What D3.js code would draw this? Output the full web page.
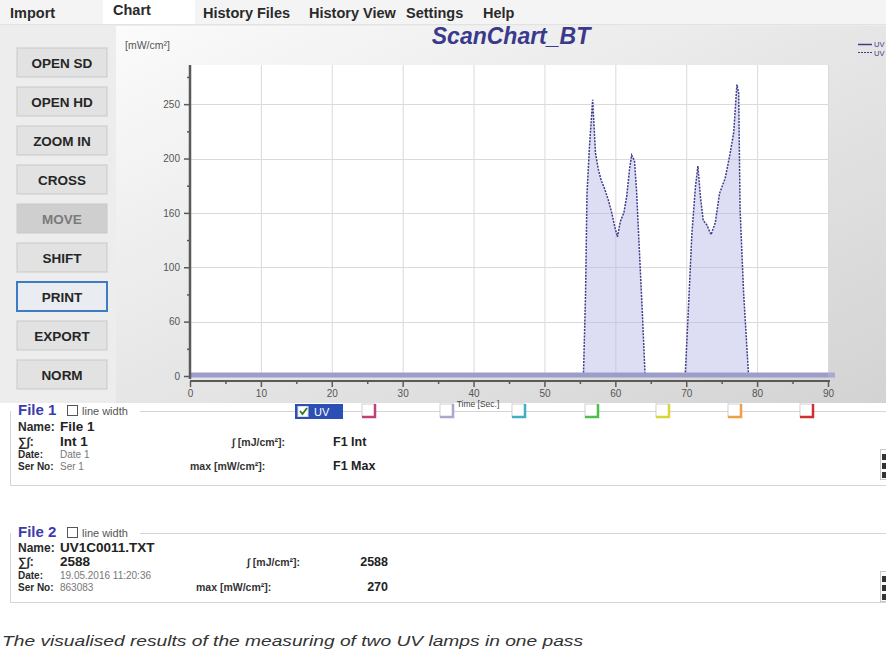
<!DOCTYPE html>
<html><head><meta charset="utf-8">
<script src="https://cdn.jsdelivr.net/npm/d3@7/dist/d3.min.js"></script>
<style>
body{margin:0;background:#fff;font-family:"Liberation Sans",Arial,sans-serif;}
svg text{font-family:"Liberation Sans",Arial,sans-serif;}
</style></head>
<body><svg id="c" width="886" height="654"></svg>
<script>
// ---------- data ----------
const tabs = ["Import","Chart","History Files","History View","Settings","Help"];
const tabX = [10,113,203,309,406,483];
const buttons = ["OPEN SD","OPEN HD","ZOOM IN","CROSS","MOVE","SHIFT","PRINT","EXPORT","NORM"];
const xTickValues = [0,10,20,30,40,50,60,70,80,90];
const yTickValues = [0,50,100,150,200,250];
const yTickLabels = ["0","60","100","160","200","250"];
const file1Time = [0,90];
const file1Values = [0,0];
const file2Time = [0,55.5,55.8,56.0,56.35,56.8,57.2,57.6,58.0,58.5,59.0,59.5,60.0,60.3,60.7,61.2,61.6,62.0,62.3,62.7,63.0,63.3,63.8,64.2,
                   69.85,70.3,70.8,71.3,71.65,72.0,72.4,72.9,73.5,74.1,74.7,75.5,76.2,76.7,77.15,77.4,77.6,78.1,78.8,90];
const file2Values = [0,0,76,168,211,254,205,190,180,172,162,150,135,128,142,150,165,190,203,198,170,128,60,0,
                     0,61,131,174,193,165,143,139,130,141,168,182,205,224,268,260,153,76,0,0];
const checkColors = ["#c0407a","#a8a8d0","#3fb0c4","#4cbf4c","#d6d63a","#f0a040","#d03030"];
const file1Info = {header:"File 1",name:"File 1",sum:"Int 1",date:"Date 1",ser:"Ser 1",intV:"F1 Int",maxV:"F1 Max"};
const file2Info = {header:"File 2",name:"UV1C0011.TXT",sum:"2588",date:"19.05.2016 11:20:36",ser:"863083",intV:"2588",maxV:"270"};
const caption = "The visualised results of the measuring of two UV lamps in one pass";

// ---------- drawing ----------
(function(){
const svg = d3.select("#c");
const defs = svg.append("defs");
const g1 = defs.append("linearGradient").attr("id","panelGrad").attr("x1","0").attr("y1","0").attr("x2","1").attr("y2","1");
g1.append("stop").attr("offset","0").attr("stop-color","#fbfbfb");
g1.append("stop").attr("offset","0.5").attr("stop-color","#e6e6e6");
g1.append("stop").attr("offset","1").attr("stop-color","#d3d3d3");

// tab bar
svg.append("rect").attr("x",0).attr("y",0).attr("width",886).attr("height",24).attr("fill","#f4f4f4");
svg.append("rect").attr("x",103).attr("y",0).attr("width",92).attr("height",25).attr("fill","#ffffff");
svg.append("line").attr("x1",0).attr("x2",886).attr("y1",24.5).attr("y2",24.5).attr("stroke","#e2e2e2");
svg.selectAll("text.tab").data(tabs).enter().append("text")
  .attr("x",(d,i)=>tabX[i]).attr("y",(d,i)=>i===1?15:18)
  .attr("font-size",14.5).attr("font-weight","bold").attr("fill","#2a2a2a").text(d=>d);

// main panel
svg.append("rect").attr("x",0).attr("y",25).attr("width",886).attr("height",378).attr("fill","#ededed");
svg.append("rect").attr("x",116).attr("y",26).attr("width",770).attr("height",377).attr("fill","url(#panelGrad)");

// buttons
const bg = svg.selectAll("g.btn").data(buttons).enter().append("g")
  .attr("transform",(d,i)=>`translate(17,${48+39*i})`);
bg.append("rect").attr("width",90).attr("height",29)
  .attr("fill",d=>d==="MOVE"?"#cfcfcf":(d==="PRINT"?"#e9edf2":"#e2e2e2"))
  .attr("stroke",d=>d==="PRINT"?"#3d7cc4":"#c9c9c9").attr("stroke-width",d=>d==="PRINT"?2:1);
bg.append("text").attr("x",45).attr("y",19.5).attr("text-anchor","middle")
  .attr("font-size",13.5).attr("font-weight","bold").attr("fill",d=>d==="MOVE"?"#7a7a7a":"#262626").text(d=>d);

// plot
const pL=190,pR=828,pT=65,pB=376;
const x = d3.scaleLinear().domain([0,90]).range([pL,pR]);
const y = d3.scaleLinear().domain([0,286]).range([pB,pT]);
svg.append("rect").attr("x",pL).attr("y",pT).attr("width",pR-pL).attr("height",pB-pT).attr("fill","#ffffff");
svg.append("g").selectAll("line").data(xTickValues.slice(1)).enter().append("line")
  .attr("x1",d=>x(d)+0.5).attr("x2",d=>x(d)+0.5).attr("y1",pT).attr("y2",pB).attr("stroke","#dadada");
svg.append("g").selectAll("line").data(yTickValues.slice(1)).enter().append("line")
  .attr("x1",pL).attr("x2",pR).attr("y1",d=>Math.round(y(d))+0.5).attr("y2",d=>Math.round(y(d))+0.5).attr("stroke","#dadada");

// title & unit
svg.append("text").attr("x",511).attr("y",44).attr("text-anchor","middle")
  .attr("font-size",23).attr("font-weight","bold").attr("font-style","italic").attr("fill","#3a3a8c").text("ScanChart_BT");
svg.append("text").attr("x",125).attr("y",49).attr("font-size",10.5).attr("fill","#555").text("[mW/cm²]");

// series 2 area + line
const pts2 = file2Time.map((t,i)=>[t,file2Values[i]]);
svg.append("path").datum(pts2)
  .attr("d",d3.area().x(d=>x(d[0])).y0(y(0)).y1(d=>y(d[1])))
  .attr("fill","#b4b4e6").attr("fill-opacity",0.45);
svg.append("path").datum(pts2)
  .attr("d",d3.line().x(d=>x(d[0])).y(d=>y(d[1])))
  .attr("fill","none").attr("stroke","#3c3c8a").attr("stroke-width",1.5).attr("stroke-dasharray","2,1.2");
// series 1 (flat)
const pts1 = file1Time.map((t,i)=>[t,file1Values[i]]);
svg.append("path").datum(pts1)
  .attr("d",d3.line().x(d=>x(d[0])).y(d=>y(d[1])-1))
  .attr("fill","none").attr("stroke","#9d9dcc").attr("stroke-width",5);
svg.append("line").attr("x1",x(90)).attr("x2",835).attr("y1",y(0)-1).attr("y2",y(0)-1).attr("stroke","#a9a9d2").attr("stroke-width",5);

// y axis
const yAxis = d3.axisLeft(y).tickValues(yTickValues).tickFormat((d,i)=>yTickLabels[i]).tickSize(6).tickPadding(4);
const ya = svg.append("g").attr("transform",`translate(${pL},0)`).call(yAxis);
ya.select(".domain").attr("stroke","#5a5a5a").attr("stroke-width",2.5).attr("d",`M0,${pT}V${pB+3}`);
ya.selectAll(".tick line").attr("stroke","#5a5a5a").attr("stroke-width",1.5);
ya.selectAll(".tick text").attr("font-size",10).attr("fill","#555").attr("font-family","Liberation Sans");
const yMinor = d3.axisLeft(y).tickValues([25,75,125,175,225,275]).tickSize(3).tickFormat("");
const ym = svg.append("g").attr("transform",`translate(${pL},0)`).call(yMinor);
ym.select(".domain").remove();
ym.selectAll(".tick line").attr("stroke","#5a5a5a").attr("stroke-width",1.5);

// x axis
const xAxis = d3.axisBottom(x).tickValues(xTickValues).tickSize(6).tickPadding(3);
const xa = svg.append("g").attr("transform",`translate(0,381)`).call(xAxis);
xa.select(".domain").attr("stroke","#5a5a5a").attr("stroke-width",2).attr("d",`M${pL},0H${pR+2}`);
xa.selectAll(".tick line").attr("stroke","#5a5a5a").attr("stroke-width",1.5);
xa.selectAll(".tick text").attr("font-size",10).attr("fill","#555").attr("font-family","Liberation Sans");
const xMinor = d3.axisBottom(x).tickValues([5,15,25,35,45,55,65,75,85]).tickSize(3).tickFormat("");
const xm = svg.append("g").attr("transform",`translate(0,381)`).call(xMinor);
xm.select(".domain").remove();
xm.selectAll(".tick line").attr("stroke","#5a5a5a").attr("stroke-width",1.5);
svg.append("text").attr("x",478).attr("y",407).attr("text-anchor","middle")
  .attr("font-size",8.5).attr("fill","#444").text("Time [Sec.]");

// legend
const lg = svg.append("g");
lg.append("line").attr("x1",858).attr("x2",872).attr("y1",44.5).attr("y2",44.5).attr("stroke","#3c3c8a").attr("stroke-width",1.5);
lg.append("line").attr("x1",858).attr("x2",872).attr("y1",52.5).attr("y2",52.5).attr("stroke","#3c3c8a").attr("stroke-width",1.2).attr("stroke-dasharray","2,1");
lg.append("text").attr("x",874).attr("y",47).attr("font-size",7.5).attr("fill","#3c3c8a").text("UV");
lg.append("text").attr("x",874).attr("y",55.5).attr("font-size",7.5).attr("fill","#3c3c8a").text("UV");

// lower section
function fileBox(info, y0, rows, bottomY, c){
  const gb = svg.append("g");
  gb.append("path").attr("d",`M10.5,${y0}V${bottomY+0.5}H886`).attr("fill","none").attr("stroke","#d4d4d4");
  gb.append("line").attr("x1",140).attr("x2",886).attr("y1",y0+0.5).attr("y2",y0+0.5).attr("stroke","#d4d4d4");
  gb.append("rect").attr("x",12).attr("y",y0-8).attr("width",127).attr("height",16).attr("fill","#fff");
  gb.append("text").attr("x",18).attr("y",y0+4).attr("font-size",15).attr("font-weight","bold").attr("fill","#3b3bb0").text(info.header);
  gb.append("rect").attr("x",67.5).attr("y",y0-5.5).attr("width",10).attr("height",10).attr("fill","#fff").attr("stroke","#555");
  gb.append("text").attr("x",82).attr("y",y0+4).attr("font-size",11).attr("fill","#555").text("line width");
  const lab = ["Name:","∑∫:","Date:","Ser No:"];
  const val = [info.name,info.sum,info.date,info.ser];
  gb.selectAll("text.l").data(lab).enter().append("text")
    .attr("x",18).attr("y",(d,i)=>rows[i]).attr("font-size",(d,i)=>i<2?12:10).attr("font-weight","bold").attr("fill","#2a2a2a").text(d=>d);
  gb.selectAll("text.v").data(val).enter().append("text")
    .attr("x",60).attr("y",(d,i)=>rows[i]).attr("font-size",(d,i)=>i<2?13.5:10).attr("font-weight",(d,i)=>i<2?"bold":"normal")
    .attr("fill",(d,i)=>i<2?"#222":"#777").text(d=>d);
  gb.append("text").attr("x",c.intX).attr("y",rows[1]).attr("font-size",10.5).attr("font-weight","bold").attr("fill","#333").text("∫  [mJ/cm²]:");
  gb.append("text").attr("x",c.maxX).attr("y",rows[3]).attr("font-size",10.5).attr("font-weight","bold").attr("fill","#333").text("max  [mW/cm²]:");
  gb.append("text").attr("x",c.valX).attr("y",rows[1]).attr("text-anchor",c.anchor).attr("font-size",12.5).attr("font-weight","bold").attr("fill","#222").text(info.intV);
  gb.append("text").attr("x",c.valX).attr("y",rows[3]).attr("text-anchor",c.anchor).attr("font-size",12.5).attr("font-weight","bold").attr("fill","#222").text(info.maxV);
  gb.append("rect").attr("x",880.5).attr("y",y0+38.5).attr("width",10).attr("height",30).attr("fill","#fbfbfb").attr("stroke","#c8c8c8");
  [0,1,2].forEach(k=>gb.append("rect").attr("x",882).attr("y",y0+43+k*9).attr("width",4).attr("height",6).attr("fill","#333"));
}
fileBox(file1Info,411,[431,446,458,470],485,{intX:232,maxX:190,valX:333,anchor:"start"});
fileBox(file2Info,533,[552,566,579,591],602,{intX:247,maxX:196,valX:388,anchor:"end"});

// channel checkboxes
const uv = svg.append("g").attr("transform","translate(295,404)");
uv.append("rect").attr("width",48).attr("height",15).attr("fill","#2b4fb4");
uv.append("rect").attr("x",3).attr("y",2.5).attr("width",10).attr("height",10).attr("fill","#fff").attr("stroke","#ddd");
uv.append("path").attr("d","M5,7 L7.5,10 L12,4").attr("fill","none").attr("stroke","#2a7a2a").attr("stroke-width",1.8);
uv.append("text").attr("x",19).attr("y",11.5).attr("font-size",11).attr("fill","#fff").text("UV");
const cbX = [362,440,512,585,656,728,800];
const cb = svg.selectAll("g.cb").data(checkColors).enter().append("g").attr("transform",(d,i)=>`translate(${cbX[i]},404)`);
cb.append("rect").attr("width",13).attr("height",13).attr("fill","#fff").attr("stroke","#cfcfcf");
cb.append("path").attr("d","M13,0V13H0").attr("fill","none").attr("stroke",d=>d).attr("stroke-width",2.5);

// caption
svg.append("text").attr("x",2).attr("y",646).attr("font-size",15.5).attr("font-style","italic").attr("fill","#333")
  .attr("textLength",581).attr("lengthAdjust","spacingAndGlyphs").text(caption);
})();
</script></body></html>
